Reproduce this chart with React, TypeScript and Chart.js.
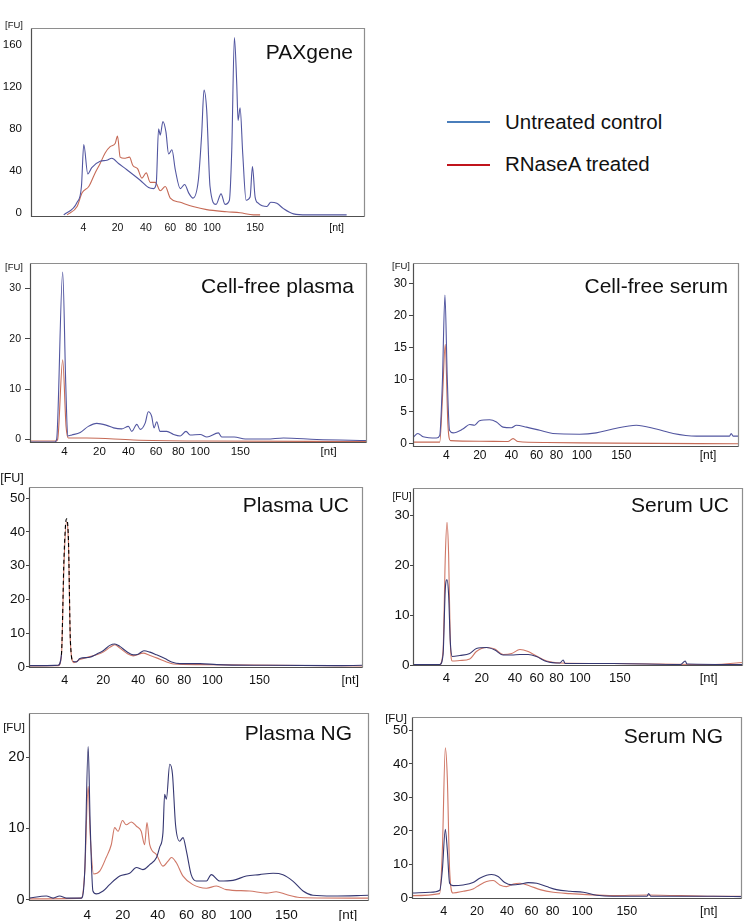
import React, { useEffect, useRef } from "react";
import { Chart, registerables } from "chart.js";

Chart.register(...registerables);

type Pt = [number, number];

// ---------- shared tick labels ----------
const xTickLabels = ["4", "20", "40", "60", "80", "100", "150", "[nt]"];

// ---------- PAXgene ----------
const paxgeneXTicks = [15.7, 25.9, 34.4, 41.7, 47.9, 54.2, 67.1, 91.5];
const paxgeneYTicks = [0, 40, 80, 120, 160];
const paxgeneYLabels = ["0", "40", "80", "120", "160"];
const paxgeneUntreated: Pt[] = [
  [9.8, -2], [13.8, 10], [15.1, 25], [15.8, 65], [17.0, 37], [18.2, 43], [20.7, 49], [22.7, 50],
  [24.2, 52], [26.2, 47], [28.7, 41], [32.7, 31], [35.2, 24], [36.7, 23], [37.5, 28], [38.2, 80],
  [38.7, 74], [39.5, 87], [40.4, 77], [41.2, 56], [42.2, 60], [43.2, 41], [44.7, 23], [46.0, 27],
  [47.2, 19], [48.5, 14], [50.1, 31], [51.1, 75], [51.8, 117], [52.6, 98], [53.6, 25], [55.4, 8],
  [56.9, 18], [58.1, 8], [59.4, 12], [60.1, 59], [60.9, 167], [61.6, 123], [62.0, 88], [62.6, 100],
  [63.4, 56], [64.4, 12], [65.6, 15], [66.3, 44], [67.1, 15], [68.1, 9], [70.6, 6], [71.8, 10],
  [73.6, 9], [75.6, 4], [78.6, -1], [82.6, -2], [94.5, -2],
];
const paxgeneRNaseA: Pt[] = [
  [10.8, -2], [13.8, 6], [15.3, 19], [17.3, 25], [19.2, 38], [20.7, 47], [22.2, 57], [23.7, 63],
  [25.2, 66], [25.9, 73], [26.7, 53], [27.9, 52], [29.5, 53], [30.5, 45], [31.9, 42], [33.2, 33],
  [34.5, 38], [35.7, 29], [37.2, 29], [38.7, 21], [40.2, 25], [41.7, 14], [44.7, 10], [48.5, 6],
  [52.6, 3], [58.6, 1], [62.6, 0], [66.6, -2], [68.6, -2],
];

// ---------- Cell-free plasma ----------
const cfPlasmaXTicks = [10.2, 20.6, 29.2, 37.4, 44.0, 50.5, 62.4, 88.6];
const cfPlasmaYTicks = [0, 10, 20, 30];
const cfPlasmaYLabels = ["0", "10", "20", "30"];
const cfPlasmaUntreated: Pt[] = [
  [0, -0.5], [7.4, -0.5], [7.9, 0], [9.7, 33.2], [10.6, 11.2], [11.2, 0.7], [12.4, 0.9], [14.9, 1.4],
  [17.3, 2.6], [19.8, 3.2], [22.8, 2.8], [24.8, 2.3], [27.2, 2.1], [29.2, 2.6], [30.2, 1.6], [31.7, 3.0],
  [32.7, 2.0], [34.2, 3.3], [35.1, 5.5], [36.1, 4.6], [36.8, 2.3], [37.6, 3.5], [38.6, 1.6], [40.6, 1.6],
  [42.6, 1.0], [44.6, 0.7], [46.3, 1.6], [47.5, 0.9], [50.5, 1.0], [52.5, 0.5], [55.9, 1.3], [56.9, 0.5],
  [60.6, 0.5], [63.9, 0.1], [70.3, 0.1], [75.2, 0.3], [85.1, 0], [100, -0.2],
];
const cfPlasmaRNaseA: Pt[] = [
  [0, -0.3], [7.7, -0.3], [8.2, 0], [9.7, 15.8], [10.7, 2.6], [11.4, 0.3], [16.8, 0.3], [30.7, -0.1],
  [50.5, -0.3], [100, -0.4],
];

// ---------- Cell-free serum ----------
const cfSerumXTicks = [10.2, 20.5, 30.2, 37.9, 44.0, 51.8, 63.9, 90.5];
const cfSerumYTicks = [0, 5, 10, 15, 20, 25];
const cfSerumYLabels = ["0", "5", "10", "15", "20", "30"];
const cfSerumUntreated: Pt[] = [
  [0, 1.0], [1.5, 1.6], [3.1, 1.1], [7.2, 0.9], [8.2, 1.3], [9.0, 9.4], [9.8, 23.2], [10.5, 10.4],
  [11.2, 2.1], [12.3, 1.7], [15.3, 2.3], [17.4, 3.0], [18.9, 2.9], [20.4, 3.6], [23.5, 3.75], [25.6, 3.4],
  [27.6, 2.6], [30.2, 2.5], [31.7, 2.9], [34.8, 2.6], [38.9, 2.1], [42.9, 1.6], [51.1, 1.5], [56.2, 1.7],
  [61.3, 2.3], [68.5, 2.9], [74.6, 2.3], [79.8, 1.6], [86.9, 1.2], [97.1, 1.2], [97.6, 1.6], [98.2, 1.2],
  [100, 1.2],
];
const cfSerumRNaseA: Pt[] = [
  [0, 0.26], [8.2, 0.26], [9.0, 6.8], [9.9, 15.5], [10.7, 3.1], [11.5, 0.5], [20.4, 0.4], [29.1, 0.35],
  [30.7, 0.8], [32.2, 0.35], [40.9, 0.2], [61.3, 0.1], [100, 0],
];

// ---------- Plasma UC ----------
const plasmaUCXTicks = [10.7, 22.2, 32.7, 39.9, 46.5, 54.9, 69.0, 96.2];
const plasmaUCYTicks = [0, 10, 20, 30, 40, 50];
const plasmaUCYLabels = ["0", "10", "20", "30", "40", "50"];
const plasmaUCUntreated: Pt[] = [
  [0, 0.4], [8.7, 0.5], [9.7, 3.6], [10.5, 33], [11.2, 43.9], [11.8, 38], [12.4, 7.6], [13.2, 1.7],
  [14.2, 1.5], [15.2, 2.5], [18.2, 2.9], [20.2, 3.8], [22.2, 4.8], [24.2, 6.4], [25.7, 6.8], [27.2, 6.1],
  [29.2, 4.6], [31.2, 3.6], [32.7, 3.8], [34.4, 4.8], [36.2, 4.4], [38.2, 3.6], [40.7, 2.5], [42.7, 1.5],
  [45.2, 1.0], [51.2, 1.0], [56.2, 0.7], [71.2, 0.5], [91.2, 0.4], [100, 0.5],
];
const plasmaUCRNaseA: Pt[] = [
  [0, 0.3], [8.7, 0.4], [9.7, 3.2], [10.5, 31], [11.2, 43], [11.8, 37], [12.4, 7.1], [13.4, 1.3],
  [15.2, 2.2], [20.2, 3.6], [22.2, 4.4], [24.2, 5.8], [25.7, 6.6], [27.2, 5.6], [29.2, 4.1], [31.2, 3.3],
  [34.2, 4.1], [36.2, 3.4], [38.2, 2.7], [41.2, 1.5], [43.2, 0.9], [51.2, 0.7], [100, 0.3],
];

// ---------- Serum UC ----------
const serumUCXTicks = [10.1, 20.8, 30.9, 37.5, 43.5, 50.6, 62.7, 89.6];
const serumUCYTicks = [0, 10, 20, 30];
const serumUCYLabels = ["0", "10", "20", "30"];
const serumUCUntreated: Pt[] = [
  [0, 0.1], [8.1, 0.1], [9.1, 2.0], [9.8, 15.4], [10.3, 17.1], [10.8, 14], [11.3, 4.7], [11.9, 1.7],
  [14.2, 1.9], [17.2, 2.3], [19.2, 3.3], [22.3, 3.5], [24.8, 3.0], [27.3, 2.0], [29.9, 2.0], [32.4, 2.1],
  [34.9, 2.1], [37.4, 1.7], [40.5, 0.7], [44.5, 0.4], [45.5, 1.0], [46.1, 0.3], [60.7, 0.3], [81.0, 0.1],
  [82.5, 0.8], [83.0, 0.2], [100, 0.1],
];
const serumUCRNaseA: Pt[] = [
  [0, 0.1], [8.1, 0.1], [9.1, 2.7], [9.8, 22], [10.3, 28.6], [10.8, 22], [11.3, 4.7], [11.9, 0.8],
  [14.2, 0.9], [17.2, 1.2], [19.2, 2.7], [22.3, 3.5], [24.8, 3.2], [27.3, 2.1], [29.9, 2.3], [32.4, 3.1],
  [34.9, 2.7], [37.4, 1.8], [40.5, 0.8], [44.5, 0.4], [60.7, 0.3], [91.1, 0.1], [100, 0.5],
];

// ---------- Plasma NG ----------
const plasmaNGXTicks = [17.1, 27.6, 37.9, 46.3, 52.9, 62.2, 75.7, 93.8];
const plasmaNGYTicks = [0, 10, 20];
const plasmaNGYLabels = ["0", "10", "20"];
const plasmaNGUntreated: Pt[] = [
  [0, 0.2], [5.1, 0.5], [7.1, 0.2], [9.0, 0.5], [11.0, 0.2], [15.4, 0.2], [16.4, 4], [17.4, 21.5],
  [18.0, 10.5], [18.8, 1.2], [19.8, 0.8], [21.8, 1.2], [23.7, 2.1], [26.7, 3.3], [29.6, 3.7], [31.6, 4.5],
  [33.5, 4.2], [35.5, 4.9], [37.5, 5.9], [38.4, 7.3], [39.4, 9.4], [39.9, 14.8], [40.4, 14.1], [41.4, 19.0],
  [42.2, 17.6], [43.1, 10.5], [44.3, 8.2], [45.3, 8.7], [46.3, 6.8], [47.7, 3.5], [49.2, 2.6], [52.2, 2.6],
  [53.6, 3.5], [56.1, 2.6], [60.0, 2.7], [63.9, 3.3], [67.8, 3.5], [71.8, 3.7], [74.7, 3.5], [77.6, 2.6],
  [80.6, 1.2], [83.5, 0.6], [89.4, 0.5], [100, 0.6],
];
const plasmaNGRNaseA: Pt[] = [
  [0, 0.1], [15.4, 0.2], [16.4, 4], [17.4, 15.9], [18.0, 9.1], [19.0, 3.6], [20.8, 4.0], [22.7, 5.9],
  [24.2, 7.7], [25.2, 10.1], [26.2, 9.6], [27.5, 11.1], [28.6, 10.5], [30.1, 10.9], [31.6, 10.3], [33.0, 9.6],
  [34.0, 7.7], [34.7, 10.8], [35.5, 7.7], [37.5, 6.3], [39.4, 4.7], [40.9, 5.4], [41.9, 5.9], [43.3, 5.2],
  [45.3, 3.3], [48.2, 2.1], [52.2, 1.6], [55.1, 1.9], [58.0, 1.4], [64.9, 1.2], [69.8, 0.9], [72.7, 1.1],
  [75.7, 0.7], [79.6, 0.3], [100, 0.2],
];

// ---------- Serum NG ----------
const serumNGXTicks = [9.6, 19.7, 28.8, 36.2, 42.6, 51.6, 65.1, 89.9];
const serumNGYTicks = [0, 10, 20, 30, 40, 50];
const serumNGYLabels = ["0", "10", "20", "30", "40", "50"];
const serumNGUntreated: Pt[] = [
  [0, 1.5], [5.4, 1.7], [8.4, 2.3], [9.2, 8.4], [10.1, 20.5], [10.7, 14.3], [11.4, 4.4], [12.4, 3.7],
  [15.5, 3.9], [18.5, 4.6], [20.5, 5.9], [22.6, 6.8], [24.1, 7.0], [26.1, 6.4], [28.1, 4.6], [30.2, 3.9],
  [32.7, 4.1], [35.2, 4.6], [37.8, 4.4], [40.8, 3.4], [43.8, 2.5], [47.9, 2.0], [51.9, 1.7], [56.0, 0.8],
  [61.0, 0.5], [71.2, 0.5], [71.7, 1.3], [72.4, 0.5], [91.4, 0.5], [100, 0.4],
];
const serumNGRNaseA: Pt[] = [
  [0, 0.7], [8.4, 1.3], [9.2, 14.3], [10.1, 44.8], [10.7, 35.9], [11.4, 8.4], [12.4, 1.5], [15.5, 2.0],
  [18.5, 2.7], [20.5, 3.9], [22.6, 4.9], [24.6, 5.2], [26.6, 3.9], [28.6, 3.4], [30.7, 4.2], [32.7, 4.4],
  [35.7, 3.6], [38.8, 2.5], [42.8, 1.7], [47.9, 1.3], [52.9, 1.0], [61.0, 0.7], [71.2, 0.9], [91.4, 0.5],
  [100, 0.5],
];

// ---------- legend ----------
const legendLabels = ["Untreated control", "RNaseA treated"];

// ---------- layout / style ----------
const FONT = '"Liberation Sans", Arial, Helvetica, sans-serif';
const Y_AXIS_W = 34;
const TOP_PAD = 20;
const RIGHT_PAD = 4;
const X_AXIS_H = 22;

type PanelSpec = {
  key: string;
  title: string;
  untreated: Pt[];
  treated: Pt[];
  xTicks: number[];
  yTicks: number[];
  yLabels: string[];
  yMin: number;
  yMax: number;
  box: { l: number; t: number; r: number; b: number };
  blue: string;
  red: string;
  yFs: number;
  xFs: number;
  xPad: number;
  yTickLen: number;
  yPad: number;
  titleInset: number;
  titleDy: number;
  fuDx: number;
  fuDy: number;
  fuFs: number;
  dashPeak?: [number, number];
};

const BLUE_A = "#5256a0";
const RED_A = "#c66a56";
const BLUE_B = "#363872";
const RED_B = "#cf7766";

const panels: PanelSpec[] = [
  {
    key: "pax", title: "PAXgene", untreated: paxgeneUntreated, treated: paxgeneRNaseA,
    xTicks: paxgeneXTicks, yTicks: paxgeneYTicks, yLabels: paxgeneYLabels, yMin: -4, yMax: 176,
    box: { l: 31, t: 28, r: 365, b: 217 }, blue: BLUE_A, red: RED_A,
    yFs: 11.5, xFs: 10.5, xPad: 5, yTickLen: 0, yPad: 9,
    titleInset: 12, titleDy: 25, fuDx: -17, fuDy: -3, fuFs: 9.5,
  },
  {
    key: "cfp", title: "Cell-free plasma", untreated: cfPlasmaUntreated, treated: cfPlasmaRNaseA,
    xTicks: cfPlasmaXTicks, yTicks: cfPlasmaYTicks, yLabels: cfPlasmaYLabels, yMin: -0.7, yMax: 35,
    box: { l: 30, t: 263, r: 367, b: 443 }, blue: BLUE_A, red: RED_A,
    yFs: 10.5, xFs: 11.5, xPad: 2, yTickLen: 5, yPad: 4,
    titleInset: 13, titleDy: 24, fuDx: -16, fuDy: 4, fuFs: 9.5,
  },
  {
    key: "cfs", title: "Cell-free serum", untreated: cfSerumUntreated, treated: cfSerumRNaseA,
    xTicks: cfSerumXTicks, yTicks: cfSerumYTicks, yLabels: cfSerumYLabels, yMin: -0.5, yMax: 28.2,
    box: { l: 413, t: 263, r: 739, b: 447 }, blue: BLUE_A, red: RED_A,
    yFs: 12, xFs: 12, xPad: 1, yTickLen: 4, yPad: 2,
    titleInset: 11, titleDy: 24, fuDx: -12, fuDy: 3, fuFs: 9.5,
  },
  {
    key: "puc", title: "Plasma UC", untreated: plasmaUCUntreated, treated: plasmaUCRNaseA,
    xTicks: plasmaUCXTicks, yTicks: plasmaUCYTicks, yLabels: plasmaUCYLabels, yMin: -0.3, yMax: 53.3,
    box: { l: 29, t: 487, r: 363, b: 668 }, blue: BLUE_B, red: RED_B,
    yFs: 13.5, xFs: 12.5, xPad: 5, yTickLen: 3, yPad: 1,
    titleInset: 14, titleDy: 19, fuDx: -17, fuDy: -8, fuFs: 12.5, dashPeak: [9.5, 13.5],
  },
  {
    key: "suc", title: "Serum UC", untreated: serumUCUntreated, treated: serumUCRNaseA,
    xTicks: serumUCXTicks, yTicks: serumUCYTicks, yLabels: serumUCYLabels, yMin: -0.2, yMax: 35.5,
    box: { l: 413, t: 488, r: 743, b: 666 }, blue: BLUE_B, red: RED_B,
    yFs: 13.5, xFs: 13, xPad: 5, yTickLen: 3, yPad: 0.5,
    titleInset: 14, titleDy: 18, fuDx: -11, fuDy: 9, fuFs: 10,
  },
  {
    key: "png", title: "Plasma NG", untreated: plasmaNGUntreated, treated: plasmaNGRNaseA,
    xTicks: plasmaNGXTicks, yTicks: plasmaNGYTicks, yLabels: plasmaNGYLabels, yMin: -0.2, yMax: 26.2,
    box: { l: 29, t: 713, r: 369, b: 901 }, blue: BLUE_B, red: RED_B,
    yFs: 14.5, xFs: 13.5, xPad: 6, yTickLen: 3, yPad: 1.5,
    titleInset: 17, titleDy: 21, fuDx: -15, fuDy: 15, fuFs: 11.5,
  },
  {
    key: "sng", title: "Serum NG", untreated: serumNGUntreated, treated: serumNGRNaseA,
    xTicks: serumNGXTicks, yTicks: serumNGYTicks, yLabels: serumNGYLabels, yMin: -0.3, yMax: 54,
    box: { l: 412, t: 717, r: 742, b: 899 }, blue: BLUE_B, red: RED_B,
    yFs: 13.5, xFs: 12.5, xPad: 5, yTickLen: 3, yPad: 1,
    titleInset: 19, titleDy: 20, fuDx: -16, fuDy: 2, fuFs: 11.5,
  },
];

function Panel({ p }: { p: PanelSpec }) {
  const ref = useRef<HTMLCanvasElement | null>(null);
  const w = Y_AXIS_W + (p.box.r - p.box.l) + RIGHT_PAD;
  const h = TOP_PAD + (p.box.b - p.box.t) + X_AXIS_H;

  useEffect(() => {
    const canvas = ref.current;
    if (!canvas) return;

    const overlay = {
      id: "overlay_" + p.key,
      afterDraw(chart: any) {
        const { ctx, chartArea: a } = chart;
        ctx.save();
        ctx.lineWidth = 1.2;
        ctx.strokeStyle = "#8e8e8e";
        ctx.beginPath();
        ctx.moveTo(a.left + 0.5, a.top + 0.5);
        ctx.lineTo(a.right - 0.5, a.top + 0.5);
        ctx.lineTo(a.right - 0.5, a.bottom - 0.5);
        ctx.stroke();
        ctx.strokeStyle = "#505050";
        ctx.beginPath();
        ctx.moveTo(a.left + 0.5, a.top + 0.5);
        ctx.lineTo(a.left + 0.5, a.bottom - 0.5);
        ctx.lineTo(a.right - 0.5, a.bottom - 0.5);
        ctx.stroke();

        ctx.fillStyle = "#111";
        ctx.textBaseline = "middle";
        ctx.font = `21px ${FONT}`;
        ctx.textAlign = "right";
        ctx.fillText(p.title, a.right - p.titleInset, a.top + p.titleDy);

        ctx.font = `${p.fuFs}px ${FONT}`;
        ctx.textAlign = "center";
        ctx.fillText("[FU]", a.left + p.fuDx, a.top + p.fuDy);
        ctx.restore();
      },
    };

    const dash = p.dashPeak;
    const chart = new Chart(canvas, {
      type: "line",
      data: {
        datasets: [
          {
            label: legendLabels[0],
            data: p.untreated.map(([x, y]) => ({ x, y })),
            borderColor: p.blue,
            borderWidth: 1.1,
            pointRadius: 0,
            cubicInterpolationMode: "monotone",
            segment: dash
              ? {
                  borderDash: (c: any) =>
                    c.p0.parsed.x >= dash[0] && c.p1.parsed.x <= dash[1] ? [4, 3] : undefined,
                  borderColor: (c: any) =>
                    c.p0.parsed.x >= dash[0] && c.p1.parsed.x <= dash[1] ? "#000" : undefined,
                }
              : undefined,
          },
          {
            label: legendLabels[1],
            data: p.treated.map(([x, y]) => ({ x, y })),
            borderColor: p.red,
            borderWidth: 1.1,
            pointRadius: 0,
            cubicInterpolationMode: "monotone",
          },
        ],
      },
      options: {
        animation: false,
        responsive: false,
        maintainAspectRatio: false,
        events: [],
        layout: { padding: { top: TOP_PAD, right: RIGHT_PAD, left: 0, bottom: 0 } },
        plugins: { legend: { display: false }, tooltip: { enabled: false }, title: { display: false } },
        scales: {
          x: {
            type: "linear",
            min: 0,
            max: 100,
            afterBuildTicks: (s: any) => {
              s.ticks = p.xTicks.map((v) => ({ value: v }));
            },
            afterFit: (s: any) => {
              s.height = X_AXIS_H;
            },
            ticks: {
              autoSkip: false,
              maxRotation: 0,
              padding: p.xPad,
              color: "#111",
              font: { family: FONT, size: p.xFs },
              callback: (_v: any, i: number) => xTickLabels[i],
            },
            grid: { display: false, drawTicks: false },
            border: { display: false },
          },
          y: {
            type: "linear",
            min: p.yMin,
            max: p.yMax,
            afterBuildTicks: (s: any) => {
              s.ticks = p.yTicks.map((v) => ({ value: v }));
            },
            afterFit: (s: any) => {
              s.width = Y_AXIS_W;
            },
            ticks: {
              autoSkip: false,
              padding: p.yPad,
              color: "#111",
              font: { family: FONT, size: p.yFs },
              callback: (_v: any, i: number) => p.yLabels[i],
            },
            grid: {
              display: p.yTickLen > 0,
              drawOnChartArea: false,
              drawTicks: p.yTickLen > 0,
              tickLength: p.yTickLen,
              color: "#444",
              lineWidth: 1,
            },
            border: { display: false },
          },
        },
      } as any,
      plugins: [overlay],
    });
    return () => chart.destroy();
  }, []);

  return (
    <canvas
      ref={ref}
      width={w}
      height={h}
      style={{
        position: "absolute",
        left: p.box.l - Y_AXIS_W,
        top: p.box.t - TOP_PAD,
        width: w,
        height: h,
      }}
    />
  );
}

export default function App() {
  const legendFs = 20.5;
  return (
    <div
      style={{
        position: "absolute",
        left: 0,
        top: 0,
        width: 746,
        height: 921,
        background: "#fff",
        overflow: "hidden",
        fontFamily: FONT,
      }}
    >
      {panels.map((p) => (
        <Panel key={p.key} p={p} />
      ))}
      <div style={{ position: "absolute", left: 447, top: 121, width: 43, height: 2, background: "#4a7ebb" }} />
      <div
        style={{
          position: "absolute",
          left: 505,
          top: 122.7 - legendFs / 2,
          fontSize: legendFs,
          lineHeight: `${legendFs}px`,
          color: "#111",
          whiteSpace: "nowrap",
        }}
      >
        {legendLabels[0]}
      </div>
      <div style={{ position: "absolute", left: 447, top: 164, width: 43, height: 2, background: "#c0141c" }} />
      <div
        style={{
          position: "absolute",
          left: 505,
          top: 164 - legendFs / 2,
          fontSize: legendFs,
          lineHeight: `${legendFs}px`,
          color: "#111",
          whiteSpace: "nowrap",
        }}
      >
        {legendLabels[1]}
      </div>
    </div>
  );
}
